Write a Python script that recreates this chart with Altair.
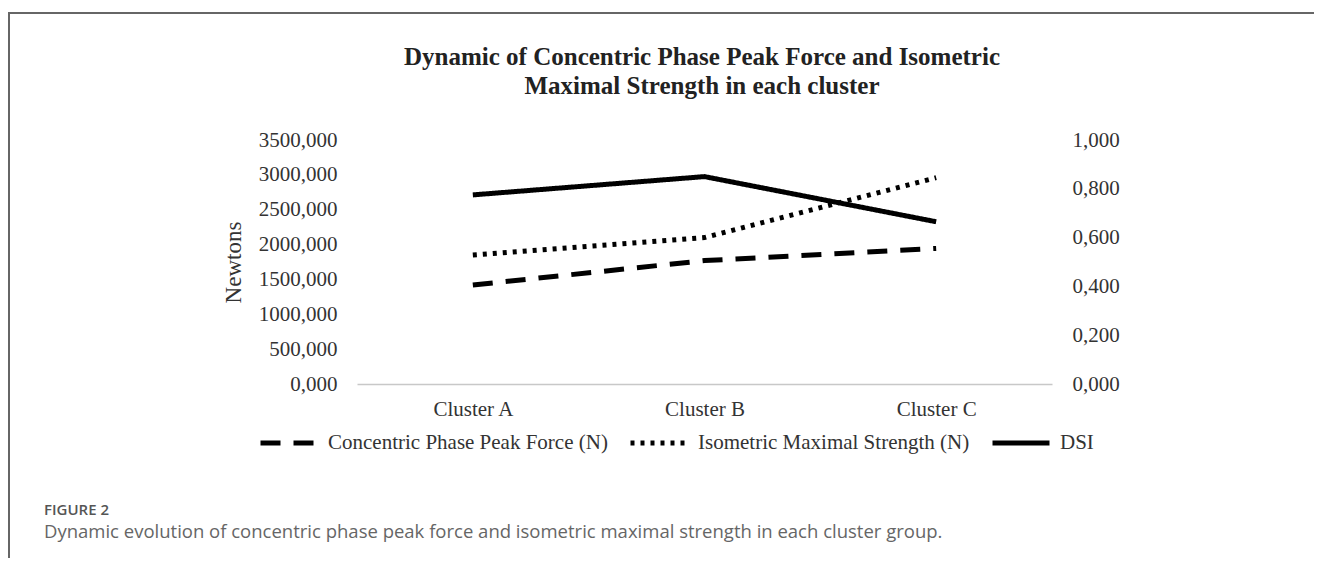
import altair as alt
import pandas as pd

# ---- data ----
clusters = ["Cluster A", "Cluster B", "Cluster C"]
concentric = [1420, 1770, 1945]
isometric = [1850, 2100, 2960]
dsi = [0.775, 0.850, 0.665]
series_names = ["Concentric Phase Peak Force (N)", "Isometric Maximal Strength (N)", "DSI"]
left_ticks = [0, 500, 1000, 1500, 2000, 2500, 3000, 3500]
right_ticks = [0, 0.2, 0.4, 0.6, 0.8, 1.0]
title_lines = ["Dynamic of Concentric Phase Peak Force and Isometric",
               "Maximal Strength in each cluster"]
fig_label = "FIGURE 2"
caption = "Dynamic evolution of concentric phase peak force and isometric maximal strength in each cluster group."

force_df = pd.DataFrame({
    "cluster": clusters * 2,
    "value": concentric + isometric,
    "series": [series_names[0]] * 3 + [series_names[1]] * 3,
})
dsi_df = pd.DataFrame({"cluster": clusters, "value": dsi, "series": [series_names[2]] * 3})
one = pd.DataFrame({"d": [0]})

W, H = 695, 244
SERIF = "Liberation Serif"
comma_fmt = "replace(format(datum.value, '.3f'), '.', ',')"

dash_scale = alt.Scale(domain=series_names, range=[[20, 13], [4, 6], [1, 0]])
legend = alt.Legend(
    orient="none", legendX=-99, legendY=272, direction="horizontal", title=None,
    symbolType="stroke", symbolSize=3249, symbolStrokeWidth=5, symbolStrokeColor="black",
    labelFont=SERIF, labelFontSize=21, labelColor="#333", labelOffset=8, columnPadding=12,
    labelLimit=400,
)

x_enc = alt.X(
    "cluster:N", sort=clusters,
    scale=alt.Scale(type="point", padding=0.5),
    axis=alt.Axis(title=None, labelAngle=0, ticks=False, domainColor="#c8c8c8", domainWidth=1.5,
                  labelFont=SERIF, labelFontSize=21, labelColor="#333", labelPadding=14, grid=False),
)

force = alt.Chart(force_df).mark_line(color="black", strokeWidth=5).encode(
    x=x_enc,
    y=alt.Y("value:Q", scale=alt.Scale(domain=[0, 3500], nice=False),
            axis=alt.Axis(values=left_ticks, labelExpr=comma_fmt, domain=False, ticks=False, grid=False,
                          labelFont=SERIF, labelFontSize=21, labelColor="#333", labelPadding=20,
                          title="Newtons", titleFont=SERIF, titleFontSize=23, titleFontWeight="normal",
                          titleColor="#333", titleAngle=-90, titleX=-124, titleY=122,
                          titleAlign="center", titleBaseline="middle")),
    strokeDash=alt.StrokeDash("series:N", scale=dash_scale, legend=legend),
)

dsi_line = alt.Chart(dsi_df).mark_line(color="black", strokeWidth=5).encode(
    x=x_enc,
    y=alt.Y("value:Q", scale=alt.Scale(domain=[0, 1], nice=False),
            axis=alt.Axis(orient="right", values=right_ticks, labelExpr=comma_fmt, domain=False,
                          ticks=False, grid=False, title=None,
                          labelFont=SERIF, labelFontSize=21, labelColor="#333", labelPadding=20)),
    strokeDash=alt.StrokeDash("series:N", scale=dash_scale, legend=legend),
)

title = alt.Chart(one).mark_text(
    font=SERIF, fontSize=25, fontWeight="bold", color="#222", align="center", baseline="top",
    lineHeight=29,
).encode(x=alt.value(345), y=alt.value(-95), text=alt.value(title_lines))

fig_txt = alt.Chart(one).mark_text(
    font="Open Sans", fontSize=15, fontWeight=600, color="#555", align="left", baseline="middle",
).encode(x=alt.value(-313), y=alt.value(370), text=alt.value(fig_label))

cap_txt = alt.Chart(one).mark_text(
    font="Open Sans", fontSize=18.5, color="#666", align="left", baseline="middle",
).encode(x=alt.value(-313), y=alt.value(392), text=alt.value(caption))

top_border = alt.Chart(one).mark_rule(color="#666", strokeWidth=2).encode(
    x=alt.value(-348), x2=alt.value(1000), y=alt.value(-127))
left_border = alt.Chart(one).mark_rule(color="#666", strokeWidth=2).encode(
    x=alt.value(-348), y=alt.value(-128), y2=alt.value(440))

chart = alt.layer(force, dsi_line, title, fig_txt, cap_txt, top_border, left_border).resolve_scale(
    y="independent"
).properties(
    width=W, height=H,
    padding={"left": 349, "top": 132, "right": 262, "bottom": 174},
    autosize=alt.AutoSizeParams(type="none"),
    background="white",
).configure_view(stroke=None)

chart.save("out.html", embed_options={"renderer": "svg", "actions": False})
